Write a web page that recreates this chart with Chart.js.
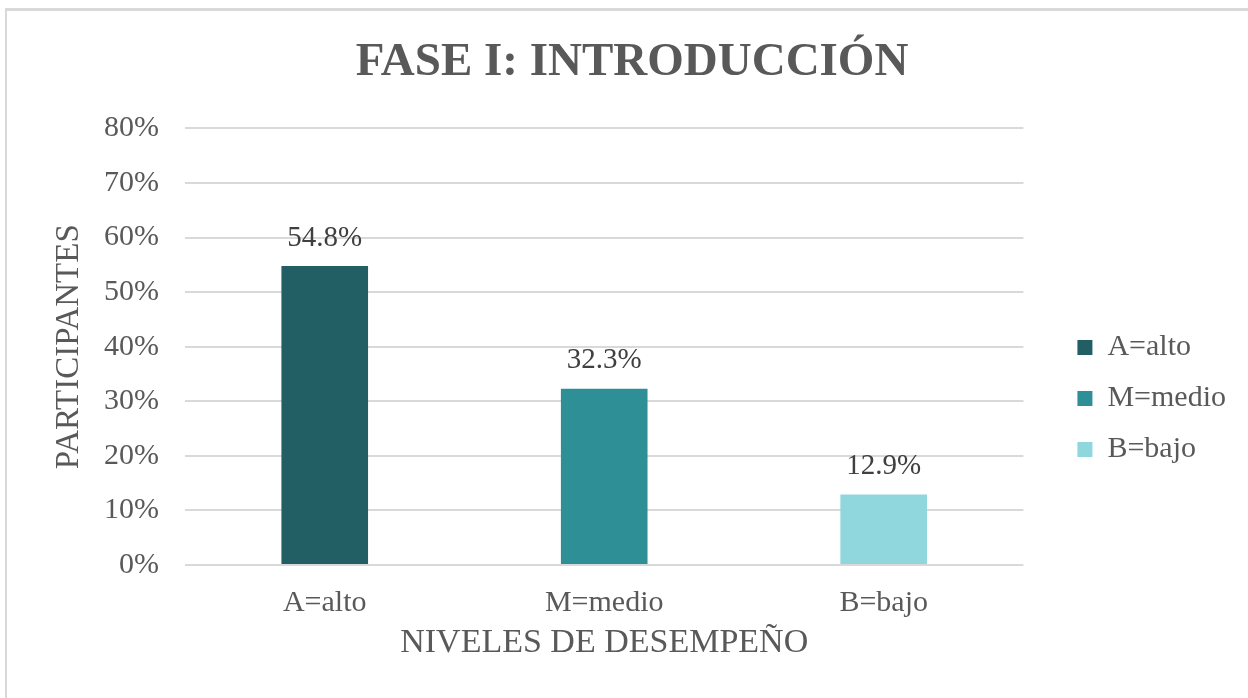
<!DOCTYPE html>
<html>
<head>
<meta charset="utf-8">
<script src="https://cdn.jsdelivr.net/npm/chart.js@4.4.1/dist/chart.umd.min.js"></script>
<style>
  html, body { margin: 0; padding: 0; background: #fff; }
  #frame {
    position: absolute; left: 5px; top: 8px; width: 1250px; height: 700px;
    border-top: 3px solid #d9d9d9; border-left: 2px solid #d9d9d9;
  }
  #wrap { position: absolute; left: 0; top: 0; width: 1248px; height: 698px; }
</style>
</head>
<body>
<div id="frame"></div>
<div id="wrap"><canvas id="chart" width="1248" height="698"></canvas></div>
<script>
const categories = ['A=alto', 'M=medio', 'B=bajo'];
const values = [54.8, 32.3, 12.9];
const barColors = ['#215f64', '#2e8f97', '#90d6dd'];
const yTicks = [0, 10, 20, 30, 40, 50, 60, 70, 80];

const serif = "'Liberation Serif', 'Times New Roman', serif";

// etiquetas de valor encima de cada barra
const valueLabels = {
  id: 'valueLabels',
  afterDatasetsDraw(chart) {
    const ctx = chart.ctx;
    const meta = chart.getDatasetMeta(0);
    ctx.save();
    ctx.font = '29px ' + serif;
    ctx.fillStyle = '#404040';
    ctx.textAlign = 'center';
    ctx.textBaseline = 'middle';
    meta.data.forEach(function(bar, i) {
      ctx.fillText(values[i].toFixed(1) + '%', bar.x, bar.y - 28);
    });
    ctx.restore();
  }
};

const ctx = document.getElementById('chart').getContext('2d');
new Chart(ctx, {
  type: 'bar',
  data: {
    labels: categories,
    datasets: [{
      data: values,
      backgroundColor: barColors,
      barPercentage: 0.31,
      categoryPercentage: 1
    }]
  },
  options: {
    responsive: false,
    animation: false,
    layout: { padding: { left: 28, right: 12, top: 0, bottom: 35 } },
    plugins: {
      title: {
        display: true,
        text: 'FASE I: INTRODUCCIÓN',
        color: '#595959',
        font: { family: serif, size: 47, weight: 'bold' },
        padding: { top: 35, bottom: 37 }
      },
      legend: {
        position: 'right',
        title: { display: true, text: '', font: { size: 10 }, padding: { top: 122, bottom: 0 } },
        labels: {
          color: '#595959',
          font: { family: serif, size: 30 },
          boxWidth: 15,
          boxHeight: 15,
          padding: 21,
          generateLabels: function() {
            return categories.map(function(c, i) {
              return { text: c, fillStyle: barColors[i], strokeStyle: barColors[i], lineWidth: 0, fontColor: '#595959', index: i };
            });
          }
        },
        onClick: null
      },
      tooltip: { enabled: false }
    },
    scales: {
      x: {
        grid: { display: false, drawTicks: false },
        border: { display: false },
        ticks: { color: '#595959', font: { family: serif, size: 30 }, padding: 20 },
        title: {
          display: true, text: 'NIVELES DE DESEMPEÑO', color: '#595959',
          font: { family: serif, size: 34 }, padding: { top: 4, bottom: 0 }
        },
        afterFit: function(axis) { axis.height = 98; }
      },
      y: {
        min: 0, max: 80,
        afterBuildTicks: function(axis) { axis.ticks = yTicks.map(function(v) { return { value: v }; }); },
        grid: { color: '#d9d9d9', lineWidth: 2, drawTicks: false },
        border: { display: false },
        ticks: {
          color: '#595959', font: { family: serif, size: 30 }, padding: 26,
          callback: function(v) { return v + '%'; }
        },
        title: {
          display: true, text: 'PARTICIPANTES', color: '#595959',
          font: { family: serif, size: 33 }, padding: { top: 22, bottom: 0 }
        },
        afterFit: function(axis) { axis.width = 157; }
      },
      // eje vacío a la derecha: solo separa la leyenda del área de trazado
      gap: {
        type: 'linear', position: 'right', display: true,
        grid: { display: false }, border: { display: false }, ticks: { display: false },
        afterFit: function(axis) { axis.width = 33; }
      }
    }
  },
  plugins: [valueLabels]
});
</script>
</body>
</html>
